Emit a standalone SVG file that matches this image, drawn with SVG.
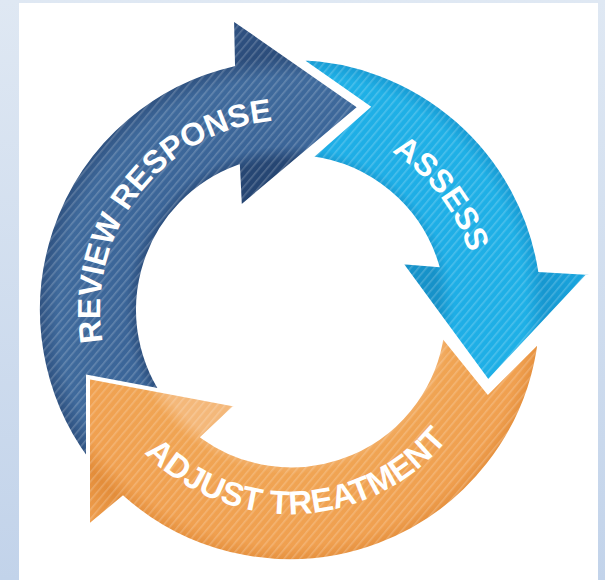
<svg xmlns="http://www.w3.org/2000/svg" xmlns:xlink="http://www.w3.org/1999/xlink" width="605" height="580" viewBox="0 0 605 580">
<style>
.lbl{font-family:"Liberation Sans",Arial,sans-serif;font-weight:bold;font-size:32px;fill:#ffffff;}
.big{font-size:33px;}
.edge{stroke:#ffffff;stroke-width:4;stroke-linejoin:miter;}
.str{fill:url(#stripes);stroke:none;}
</style>
<defs>
<linearGradient id="bg" x1="0" y1="0" x2="0" y2="1">
<stop offset="0" stop-color="#dfe8f3"/>
<stop offset="1" stop-color="#c2d3ea"/>
</linearGradient>
<pattern id="stripes" patternUnits="userSpaceOnUse" width="6" height="6" patternTransform="rotate(40)">
<rect x="0" y="0" width="1.6" height="6" fill="#ffffff" fill-opacity="0.2"/>
</pattern>
<radialGradient id="gBlue" gradientUnits="userSpaceOnUse" cx="290" cy="310" r="310">
<stop offset="0.48" stop-color="#264673"/>
<stop offset="0.53" stop-color="#3b6598"/>
<stop offset="0.75" stop-color="#3f6a9c"/>
<stop offset="0.82" stop-color="#2c4d7b"/>
<stop offset="0.9" stop-color="#2e5080"/>
</radialGradient>
<radialGradient id="gCyan" gradientUnits="userSpaceOnUse" cx="290" cy="310" r="310">
<stop offset="0.48" stop-color="#1692c9"/>
<stop offset="0.53" stop-color="#1eaee6"/>
<stop offset="0.76" stop-color="#1fb0e6"/>
<stop offset="0.82" stop-color="#1697d0"/>
<stop offset="0.95" stop-color="#1aa6df"/>
</radialGradient>
<radialGradient id="gOrange" gradientUnits="userSpaceOnUse" cx="290" cy="310" r="310">
<stop offset="0.48" stop-color="#f4b87a"/>
<stop offset="0.53" stop-color="#f0a453"/>
<stop offset="0.76" stop-color="#f0a050"/>
<stop offset="0.82" stop-color="#e38d3a"/>
<stop offset="0.95" stop-color="#f0a050"/>
</radialGradient>
<path id="tpBlue" d="M 125.5,405 A 190 190 0 0 1 339.2,126.5"/>
<path id="tpCyan" d="M 322.6,124.8 A 188 188 0 0 1 477.3,326.4"/>
<path id="tpOrange" d="M 113.3,412 A 204 204 0 0 0 474.9,396.2"/>
</defs>
<rect x="0" y="0" width="605" height="580" fill="url(#bg)"/>
<rect x="19" y="3" width="579" height="577" fill="#ffffff"/>
<g id="arrow-review-response">
<path class="edge" fill="url(#gBlue)" d="M 97,472 A 252 252 0 0 1 233,64.5 L 232,18 L 360,107 L 240,208 L 238,167 A 152 152 0 0 0 174,408 Z"/>
<path class="str" d="M 97,472 A 252 252 0 0 1 233,64.5 L 232,18 L 360,107 L 240,208 L 238,167 A 152 152 0 0 0 174,408 Z"/>
<text class="lbl"><textPath xlink:href="#tpBlue" href="#tpBlue" startOffset="50%" text-anchor="middle">REVIEW RESPONSE</textPath></text>
</g>
<g id="arrow-assess">
<path class="edge" fill="url(#gCyan)" d="M 298,58 A 252 252 0 0 1 540,270 L 590,273 L 488,382 L 400,262 L 437,265 A 152 152 0 0 0 310,158 L 368,107 Z"/>
<path class="str" d="M 298,58 A 252 252 0 0 1 540,270 L 590,273 L 488,382 L 400,262 L 437,265 A 152 152 0 0 0 310,158 L 368,107 Z"/>
<text class="lbl"><textPath xlink:href="#tpCyan" href="#tpCyan" startOffset="50%" text-anchor="middle">ASSESS</textPath></text>
</g>
<g id="arrow-adjust-treatment">
<path class="edge" fill="url(#gOrange)" d="M 540,340 A 252 252 0 0 1 123,498 L 88,527 L 88,377 L 237,405 L 203,437 A 152 152 0 0 0 442,335 L 488,392 Z"/>
<path class="str" d="M 540,340 A 252 252 0 0 1 123,498 L 88,527 L 88,377 L 237,405 L 203,437 A 152 152 0 0 0 442,335 L 488,392 Z"/>
<text class="lbl big"><textPath xlink:href="#tpOrange" href="#tpOrange" startOffset="50%" text-anchor="middle">ADJUST TREATMENT</textPath></text>
</g>
</svg>
